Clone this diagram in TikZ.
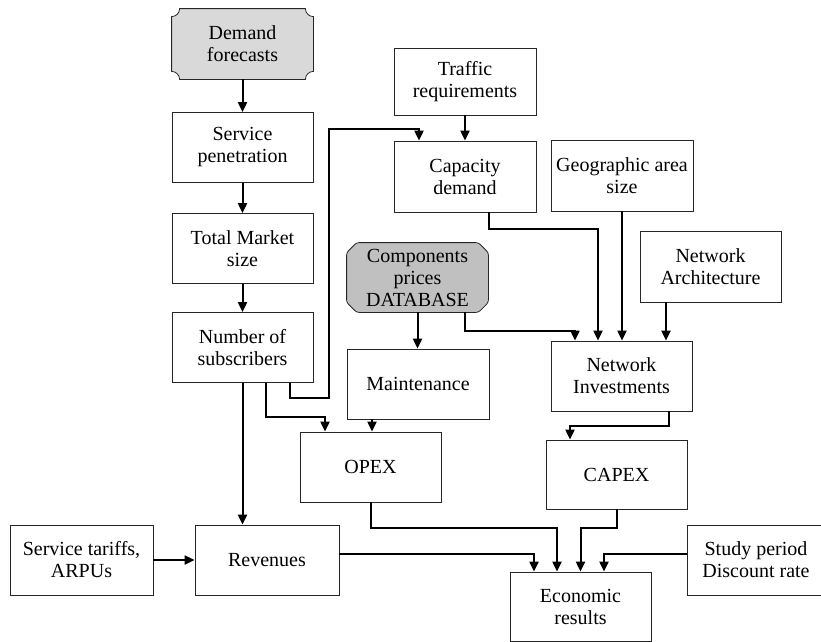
\documentclass[tikz,border=0pt]{standalone}
\usepackage{fontspec}
\setmainfont{Liberation Serif}
\usetikzlibrary{arrows.meta,calc,backgrounds}
\definecolor{lightgr}{HTML}{D9D9D9}
\definecolor{darkgr}{HTML}{C0C0C0}
\begin{document}
\begin{tikzpicture}[x=1pt,y=-1pt,
  box/.style={draw=black!85, line width=0.8pt, fill=white, minimum width=#1, minimum height=70pt, inner sep=0pt, align=center, font=\fontsize{20}{22}\selectfont},
  box/.default=141pt,
  plain/.style={draw=none, fill=none},
  conn/.style={line width=2pt, -{Triangle[length=10pt,width=9pt]}},
  shapeline/.style={draw=black!85, line width=0.8pt}
]
\useasboundingbox (0,0) rectangle (821,641);
% nodes
\node[box, plain] (df) at (242.5,44) {Demand\\forecasts};
\node[box] (sp) at (242.5,147.5) {Service\\penetration};
\node[box] (tm) at (242.5,248.5) {Total Market\\size};
\node[box] (ns) at (242.5,347.5) {Number of\\subscribers};
\node[box=142pt, minimum height=67pt] (tr) at (465,81.5) {Traffic\\requirements};
\node[box=142pt, minimum height=71pt] (cd) at (465,176.5) {Capacity\\demand};
\node[box=142pt, minimum height=71pt] (ga) at (622,175.5) {Geographic area\\size};
\node[box, minimum height=71pt] (na) at (710.5,266.5) {Network\\Architecture};
\node[box, plain, minimum height=69pt] (db) at (417.5,277.5) {Components\\prices\\DATABASE};
\node[box=142pt] (mt) at (418,384) {Maintenance};
\node[box] (ni) at (621.5,376) {Network\\Investments};
\node[box] (opex) at (370.5,467) {OPEX};
\node[box, minimum height=69pt] (capex) at (616.5,474.5) {CAPEX};
\node[box=143pt] (st) at (81.5,560) {Service tariffs,\\ARPUs};
\node[box=144pt] (rev) at (267,560) {Revenues};
\node[box, minimum height=69pt] (er) at (580.5,606.5) {Economic\\results};
\node[box=138pt] (sd) at (756,560) {Study period\\Discount rate};
% special shapes
\begin{scope}[on background layer]
  \def\r{8pt}
  \draw[shapeline, fill=lightgr]
    ([xshift=\r]df.north west) -- ([xshift=-\r]df.north east)
    arc[start angle=180, end angle=270, radius=\r]
    -- ([yshift=\r]df.south east)
    arc[start angle=90, end angle=180, radius=\r]
    -- ([xshift=\r]df.south west)
    arc[start angle=0, end angle=90, radius=\r]
    -- ([yshift=-\r]df.north west)
    arc[start angle=270, end angle=360, radius=\r] -- cycle;
  \draw[shapeline, fill=darkgr, rounded corners=2.5pt]
    ([xshift=10pt]db.north west) -- ([xshift=-10pt]db.north east)
    -- ([yshift=-10pt]db.north east) -- ([yshift=10pt]db.south east)
    -- ([xshift=-10pt]db.south east) -- ([xshift=10pt]db.south west)
    -- ([yshift=10pt]db.south west) -- ([yshift=-10pt]db.north west) -- cycle;
\end{scope}
% junctions
\coordinate (j1) at (266,417);
\coordinate (j2) at (329,398);
\coordinate (j3) at (329,129);
\coordinate (j4) at (598,229);
\coordinate (j5) at (575,331);
\coordinate (j6) at (570,426);
\coordinate (j7) at (557,528);
\coordinate (j8) at (580.5,528);
% connectors
\draw[conn] (df.south) -- (sp.north);
\draw[conn] (sp.south) -- (tm.north);
\draw[conn] (tm.south) -- (ns.north);
\draw[conn] (ns.south) -- ([xshift=-24.5pt]rev.north);
\draw[conn] ([xshift=23.5pt]ns.south) -- (j1) -| ([xshift=-45.5pt]opex.north);
\draw[conn] ([xshift=47.5pt]ns.south) |- (j2) -- (j3) -| ([xshift=-46pt]cd.north);
\draw[conn] (tr.south) -- (cd.north);
\draw[conn] ([xshift=24pt]cd.south) |- (j4) -- ([xshift=-23.5pt]ni.north);
\draw[conn] (ga.south) -- (ga.south |- ni.north);
\draw[conn] ([xshift=-44.5pt]na.south) -- ([xshift=44.5pt]ni.north);
\draw[conn] ([xshift=47.5pt]db.south) |- (j5) -- ([xshift=-46.5pt]ni.north);
\draw[conn] (db.south) -- (db.south |- mt.north);
\draw[conn] ([xshift=-46pt]mt.south) -- ([xshift=1.5pt]opex.north);
\draw[conn] ([xshift=47.5pt]ni.south) |- (j6) -- ([xshift=-46.5pt]capex.north);
\draw[conn] (opex.south) |- (j7) -- ([xshift=-23.5pt]er.north);
\draw[conn] (capex.south) |- (j8) -- (er.north);
\draw[conn] ([yshift=6pt]rev.east) -| ([xshift=-46.5pt]er.north);
\draw[conn] ([yshift=6pt]sd.west) -| ([xshift=23.5pt]er.north);
\draw[conn] (st.east) -- (rev.west);
\end{tikzpicture}
\end{document}
